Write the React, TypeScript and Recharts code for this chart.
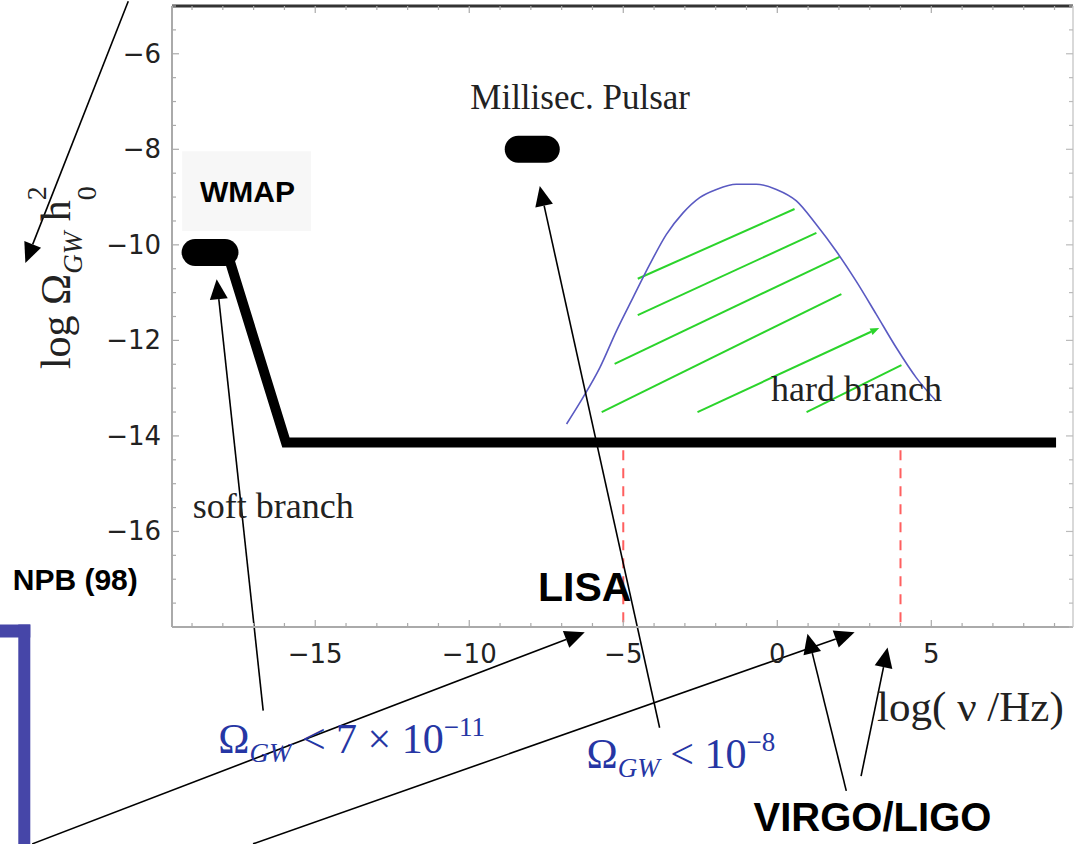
import React from "react";
import {
  LineChart,
  Line,
  XAxis,
  YAxis,
  ReferenceLine,
  ReferenceArea,
  ReferenceDot,
} from "recharts";

const SERIF = '"Liberation Serif", "Times New Roman", serif';
const SANS = '"Liberation Sans", Arial, sans-serif';
const TICK_FONT = '"DejaVu Sans", sans-serif';

const X_DOMAIN = [-19.65, 9.6];
const Y_DOMAIN = [-18, -5];
// labelled ticks
const X_LABELS = [-15, -10, -5, 0, 5];
const Y_LABELS = [-16, -14, -12, -10, -8, -6];
// minor ticks
const X_TICKS = Array.from({ length: 29 }, (_, i) => -19 + i);
const Y_TICKS = Array.from({ length: 27 }, (_, i) => -18 + i * 0.5);

// soft branch (thick black) and the two bounds
const softBranch = [
  { x: -17.86, y: -10.16 },
  { x: -15.95, y: -14.14 },
  { x: 9.05, y: -14.14 },
];
const wmapBound = [
  { x: -18.9, y: -10.16 },
  { x: -17.93, y: -10.16 },
];
const pulsarBound = [
  { x: -8.41, y: -8.0 },
  { x: -7.5, y: -8.0 },
];

// hard branch (blue bump)
const hardBranch = [
  { x: -6.84, y: -13.75 },
  { x: -6.31, y: -13.2 },
  { x: -5.76, y: -12.57 },
  { x: -5.22, y: -11.8 },
  { x: -4.68, y: -11.1 },
  { x: -4.14, y: -10.41 },
  { x: -3.6, y: -9.78 },
  { x: -3.06, y: -9.33 },
  { x: -2.52, y: -9.01 },
  { x: -1.98, y: -8.84 },
  { x: -1.33, y: -8.73 },
  { x: -0.68, y: -8.73 },
  { x: -0.03, y: -8.84 },
  { x: 0.62, y: -9.08 },
  { x: 1.26, y: -9.57 },
  { x: 1.91, y: -10.13 },
  { x: 2.56, y: -10.76 },
  { x: 3.21, y: -11.45 },
  { x: 3.86, y: -12.15 },
  { x: 4.51, y: -12.78 },
  { x: 5.16, y: -13.27 },
];

// green hatching under the bump: [x1, y1, x2, y2]
const hatch = [
  [-4.53, -10.71, 0.56, -9.25],
  [-4.53, -11.47, 1.27, -9.75],
  [-5.28, -12.49, 2.02, -10.25],
  [-5.7, -13.5, 2.08, -11.03],
  [-2.59, -13.5, 3.31, -11.74],
  [0.95, -13.5, 4.03, -12.52],
];
const hatchArrow = [false, false, false, false, true, false];

// detector frequencies (red dashed)
const detectors = [-5, 4];
const detectorTop = -14.3;

// annotation pointers: [fromX, fromY, toX, toY]
const pointers = [
  [-21.07, -4.9, -24.41, -10.38],
  [-16.69, -19.75, -18.2, -10.72],
  [-3.82, -20.11, -7.71, -8.77],
  [-24.19, -22.54, -6.25, -18.11],
  [-17.02, -22.54, 2.51, -18.11],
  [2.24, -21.43, 0.98, -18.14],
  [2.72, -21.12, 3.58, -18.43],
];

const fmt = (v: number) => (v < 0 ? "\u2212" + Math.abs(v) : String(v));

const BottomTick = (p: any) => {
  const major = X_LABELS.includes(p.payload.value);
  return (
    <g>
      <line x1={p.x} x2={p.x} y1={p.y} y2={p.y - (major ? 7 : 4)} stroke="#aaa" strokeWidth={1.2} />
      {major && (
        <text x={p.x} y={p.y + 36} textAnchor="middle" fontFamily={TICK_FONT} fontSize={26} fill="#222">
          {fmt(p.payload.value)}
        </text>
      )}
    </g>
  );
};

const TopTick = (p: any) => {
  const major = X_LABELS.includes(p.payload.value);
  return <line x1={p.x} x2={p.x} y1={p.y} y2={p.y + (major ? 7 : 4)} stroke="#aaa" strokeWidth={1.2} />;
};

const LeftTick = (p: any) => {
  const major = Y_LABELS.includes(p.payload.value);
  return (
    <g>
      <line x1={p.x} x2={p.x + (major ? 7 : 4)} y1={p.y} y2={p.y} stroke="#aaa" strokeWidth={1.2} />
      {major && (
        <text x={p.x - 11} y={p.y + 9} textAnchor="end" fontFamily={TICK_FONT} fontSize={26} fill="#222">
          {fmt(p.payload.value)}
        </text>
      )}
    </g>
  );
};

const RightTick = (p: any) => {
  const major = Y_LABELS.includes(p.payload.value);
  return <line x1={p.x} x2={p.x - (major ? 7 : 4)} y1={p.y} y2={p.y} stroke="#bbb" strokeWidth={1.2} />;
};

const arrow = (head: number, half: number, withHead = true) => (p: any) => {
  const { x1, y1, x2, y2, stroke, strokeWidth } = p;
  const a = Math.atan2(y2 - y1, x2 - x1);
  const bx = x2 - head * Math.cos(a);
  const by = y2 - head * Math.sin(a);
  const nx = -Math.sin(a) * half;
  const ny = Math.cos(a) * half;
  return (
    <g>
      <line x1={x1} y1={y1} x2={withHead ? bx : x2} y2={withHead ? by : y2} stroke={stroke} strokeWidth={strokeWidth} />
      {withHead && (
        <polygon points={`${x2},${y2} ${bx + nx},${by + ny} ${bx - nx},${by - ny}`} fill={stroke} />
      )}
    </g>
  );
};

const label = (content: React.ReactNode, props: any) => (p: any) => (
  <text x={p.cx} y={p.cy} {...props}>
    {content}
  </text>
);

const yLabel = (p: any) => (
  <text
    x={p.cx}
    y={p.cy}
    transform={`rotate(-90 ${p.cx} ${p.cy})`}
    fontFamily={SERIF}
    fontSize={42}
    fill="#222"
  >
    log Ω
    <tspan fontSize={27} fontStyle="italic" dy={12}>GW</tspan>
    <tspan dy={-12}> h</tspan>
    <tspan fontSize={28} dy={-24}>2</tspan>
    <tspan fontSize={28} dx={-14} dy={50}>0</tspan>
  </text>
);

const omegaText = (power: React.ReactNode, pre: string) => (p: any) => (
  <text x={p.cx} y={p.cy} fontFamily={SERIF} fontSize={42} fill="#2636a4">
    Ω
    <tspan fontSize={27} fontStyle="italic" dy={9}>GW</tspan>
    <tspan dy={-9}>{` < ${pre}10`}</tspan>
    <tspan fontSize={27} dy={-17}>{power}</tspan>
  </text>
);

export default function App() {
  return (
    <div style={{ position: "absolute", left: 0, top: 0, background: "#fff" }}>
      <LineChart width={1091} height={844} margin={{ top: 5, right: 8, bottom: 177, left: 112 }}>
        <XAxis
          type="number"
          dataKey="x"
          domain={X_DOMAIN}
          allowDataOverflow
          ticks={X_TICKS}
          interval={0}
          tickSize={0}
          tickMargin={0}
          tickLine={false}
          height={40}
          axisLine={{ stroke: "#aaa", strokeWidth: 2 }}
          tick={(p: any) => <BottomTick {...p} />}
        />
        <XAxis
          xAxisId="top"
          orientation="top"
          type="number"
          dataKey="x"
          domain={X_DOMAIN}
          allowDataOverflow
          ticks={X_TICKS}
          interval={0}
          tickSize={0}
          tickMargin={0}
          tickLine={false}
          height={1}
          axisLine={{ stroke: "#333", strokeWidth: 3 }}
          tick={(p: any) => <TopTick {...p} />}
        />
        <YAxis
          type="number"
          dataKey="y"
          domain={Y_DOMAIN}
          allowDataOverflow
          ticks={Y_TICKS}
          interval={0}
          width={60}
          tickSize={0}
          tickMargin={0}
          tickLine={false}
          axisLine={{ stroke: "#aaa", strokeWidth: 2 }}
          tick={(p: any) => <LeftTick {...p} />}
        />
        <YAxis
          yAxisId="right"
          orientation="right"
          type="number"
          dataKey="y"
          domain={Y_DOMAIN}
          allowDataOverflow
          ticks={Y_TICKS}
          interval={0}
          width={10}
          tickSize={0}
          tickMargin={0}
          tickLine={false}
          axisLine={{ stroke: "#ccc", strokeWidth: 1.5 }}
          tick={(p: any) => <RightTick {...p} />}
        />

        {/* WMAP label box */}
        <ReferenceArea x1={-19.32} x2={-15.14} y1={-9.71} y2={-8.04} fill="#f7f7f7" fillOpacity={1} stroke="none" ifOverflow="visible" />

        {/* slide bracket on the left */}
        <ReferenceArea x1={-25.3} x2={-24.25} y1={-18.22} y2={-17.95} fill="#4646a8" fillOpacity={1} stroke="none" ifOverflow="visible" />
        <ReferenceArea x1={-24.64} x2={-24.25} y1={-22.7} y2={-17.95} fill="#4646a8" fillOpacity={1} stroke="none" ifOverflow="visible" />

        {detectors.map((d) => (
          <ReferenceLine
            key={`det-${d}`}
            segment={[{ x: d, y: detectorTop }, { x: d, y: Y_DOMAIN[0] }]}
            stroke="#ff5f5f"
            strokeWidth={2}
            strokeDasharray="10 8"
            ifOverflow="visible"
          />
        ))}

        {hatch.map((h, i) => (
          <ReferenceLine
            key={`hatch-${i}`}
            segment={[{ x: h[0], y: h[1] }, { x: h[2], y: h[3] }]}
            stroke="#2bd42b"
            strokeWidth={2}
            ifOverflow="visible"
            shape={arrow(9, 3.5, hatchArrow[i])}
          />
        ))}

        <Line data={hardBranch} dataKey="y" type="monotone" stroke="#5a5ac2" strokeWidth={1.6} dot={false} isAnimationActive={false} />
        <Line data={softBranch} dataKey="y" type="linear" stroke="#000" strokeWidth={10} dot={false} isAnimationActive={false} />
        <Line data={wmapBound} dataKey="y" type="linear" stroke="#000" strokeWidth={27} strokeLinecap="round" dot={false} isAnimationActive={false} />
        <Line data={pulsarBound} dataKey="y" type="linear" stroke="#000" strokeWidth={27} strokeLinecap="round" dot={false} isAnimationActive={false} />

        {/* texts */}
        <ReferenceDot x={-6.4} y={-7.16} ifOverflow="visible" shape={label("Millisec. Pulsar", { textAnchor: "middle", fontFamily: SERIF, fontSize: 35, fill: "#222" })} />
        <ReferenceDot x={-17.2} y={-9.1} ifOverflow="visible" shape={label("WMAP", { textAnchor: "middle", fontFamily: SANS, fontWeight: 700, fontSize: 30, fill: "#000" })} />
        <ReferenceDot x={2.57} y={-13.26} ifOverflow="visible" shape={label("hard branch", { textAnchor: "middle", fontFamily: SERIF, fontSize: 36, fill: "#222" })} />
        <ReferenceDot x={-16.36} y={-15.71} ifOverflow="visible" shape={label("soft branch", { textAnchor: "middle", fontFamily: SERIF, fontSize: 36, fill: "#222" })} />
        <ReferenceDot x={-22.79} y={-17.22} ifOverflow="visible" shape={label("NPB (98)", { textAnchor: "middle", fontFamily: SANS, fontWeight: 700, fontSize: 30, fill: "#000" })} />
        <ReferenceDot x={-6.25} y={-17.45} ifOverflow="visible" shape={label("LISA", { textAnchor: "middle", fontFamily: SANS, fontWeight: 700, fontSize: 41, fill: "#000" })} />
        <ReferenceDot x={3.09} y={-22.27} ifOverflow="visible" shape={label("VIRGO/LIGO", { textAnchor: "middle", fontFamily: SANS, fontWeight: 700, fontSize: 40, fill: "#000" })} />
        <ReferenceDot x={6.27} y={-19.96} ifOverflow="visible" shape={label("log( ν /Hz)", { textAnchor: "middle", fontFamily: SERIF, fontSize: 43, fill: "#222" })} />
        <ReferenceDot x={-22.95} y={-12.6} ifOverflow="visible" shape={yLabel} />
        <ReferenceDot x={-18.15} y={-20.63} ifOverflow="visible" shape={omegaText("\u221211", "7 \u00d7 ")} />
        <ReferenceDot x={-6.19} y={-20.96} ifOverflow="visible" shape={omegaText("\u22128", "")} />

        {pointers.map((a, i) => (
          <ReferenceLine
            key={`ptr-${i}`}
            segment={[{ x: a[0], y: a[1] }, { x: a[2], y: a[3] }]}
            stroke="#000"
            strokeWidth={1.6}
            ifOverflow="visible"
            shape={arrow(20, 9)}
          />
        ))}
      </LineChart>
    </div>
  );
}
